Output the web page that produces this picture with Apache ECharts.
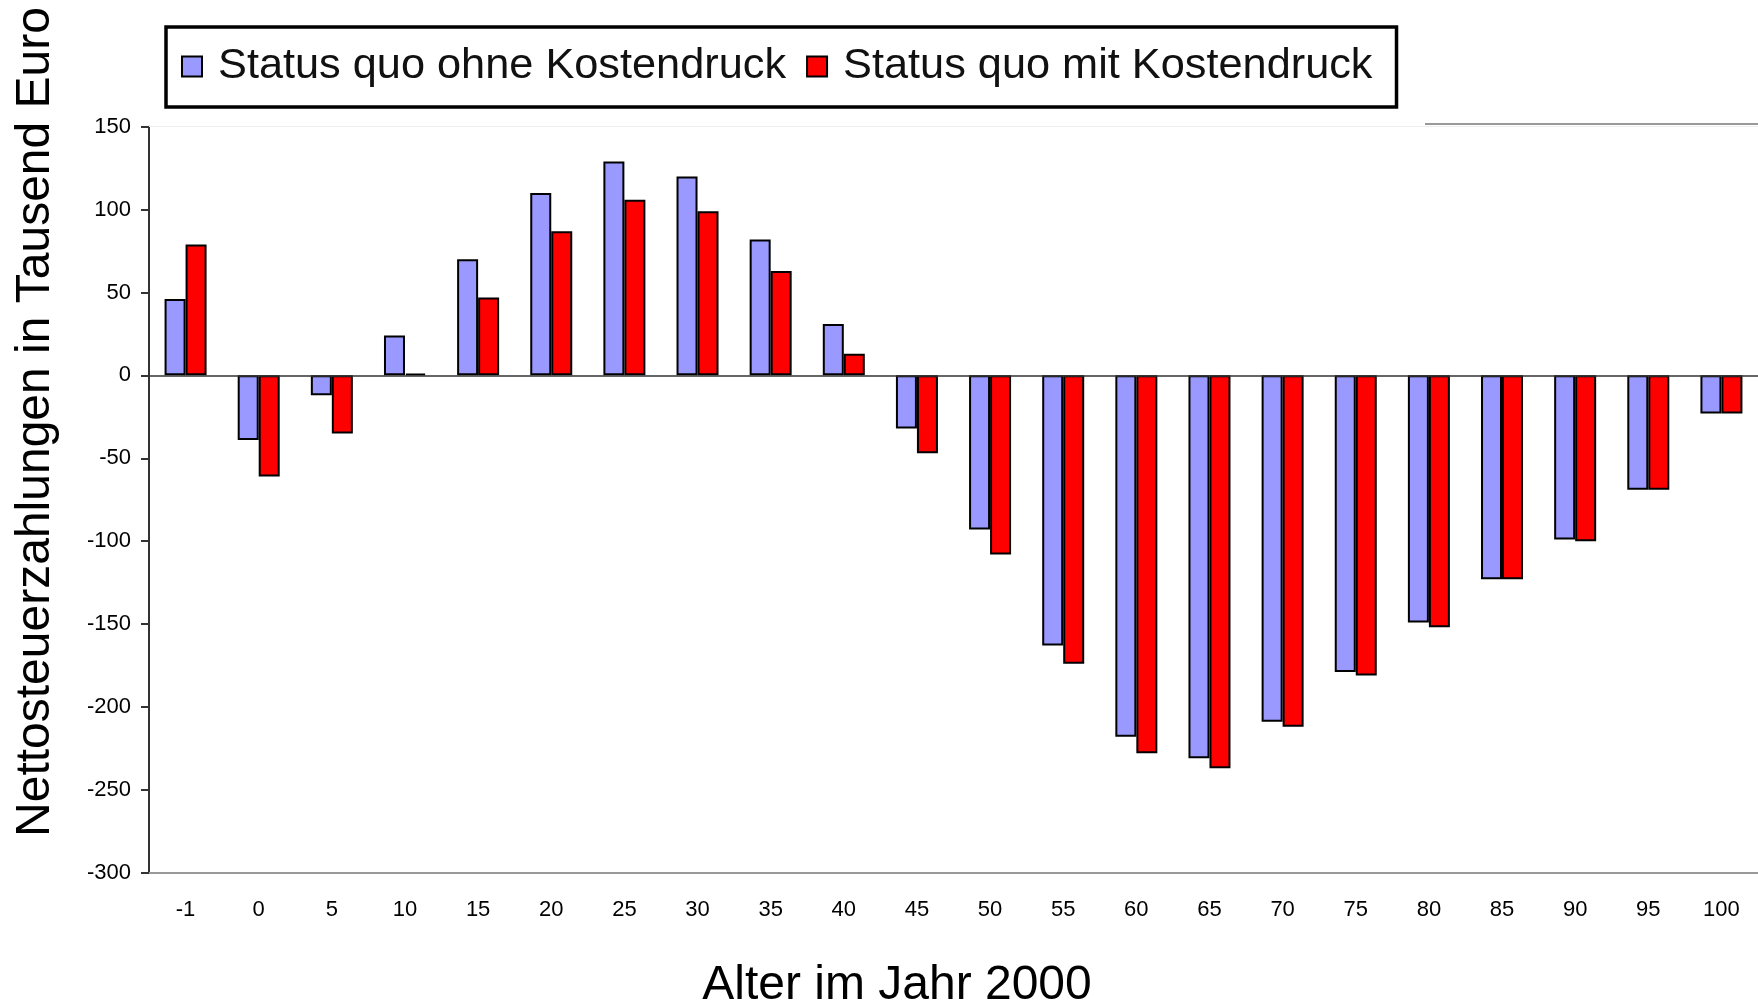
<!DOCTYPE html>
<html>
<head>
<meta charset="utf-8">
<script src="https://cdn.jsdelivr.net/npm/echarts@6/dist/echarts.min.js"></script>
<style>
html,body{margin:0;padding:0;background:#fff;}
#chart{width:1758px;height:1006px;}
</style>
</head>
<body>
<div id="chart"></div>
<script>
const categories = ['-1','0','5','10','15','20','25','30','35','40','45','50','55','60','65','70','75','80','85','90','95','100'];
const ohneKostendruck = [46, -39, -12, 24, 70, 110, 129, 120, 82, 31, -32, -93, -163, -218, -231, -209, -179, -149, -123, -99, -69, -23];
const mitKostendruck = [79, -61, -35, 1, 47, 87, 106, 99, 63, 13, -47, -108, -174, -228, -237, -212, -181, -152, -123, -100, -69, -23];
const seriesNames = ['Status quo ohne Kostendruck', 'Status quo mit Kostendruck'];
const yTitle = 'Nettosteuerzahlungen in Tausend Euro';
const xTitle = 'Alter im Jahr 2000';

const FONT = '"Liberation Sans", Arial, sans-serif';
const chart = echarts.init(document.getElementById('chart'));
chart.setOption({
  backgroundColor: '#ffffff',
  animation: false,
  textStyle: { fontFamily: FONT },
  grid: { left: 149, right: 0, top: 126.7, bottom: 133.3, containLabel: false },
  legend: {
    left: 166, top: 27,
    orient: 'horizontal',
    icon: 'rect',
    itemWidth: 20, itemHeight: 20, itemGap: 20,
    borderColor: '#000', borderWidth: 3.5,
    backgroundColor: '#fff',
    padding: [18, 24, 19, 15],
    textStyle: { fontSize: 43.3, color: '#111', fontFamily: FONT, padding: [0, 0, 0, 11] },
    data: seriesNames
  },
  xAxis: {
    type: 'category',
    data: categories,
    axisLine: { onZero: false, lineStyle: { color: '#999', width: 2 } },
    axisTick: { show: false },
    axisLabel: { fontSize: 22, color: '#000', margin: 26, fontFamily: FONT },
    splitLine: { show: false }
  },
  yAxis: {
    type: 'value',
    min: -300, max: 150, interval: 50,
    axisLine: { show: true, lineStyle: { color: '#333', width: 2 } },
    axisTick: { show: true, length: 8, lineStyle: { color: '#333', width: 2 } },
    axisLabel: { fontSize: 22, color: '#000', margin: 18, fontFamily: FONT },
    splitLine: { show: false }
  },
  series: [
    {
      name: seriesNames[0],
      type: 'bar',
      data: ohneKostendruck,
      barWidth: 21,
      barGap: '0%',
      itemStyle: { color: '#9999FF', borderColor: '#000', borderWidth: 2 },
      markLine: {
        silent: true, symbol: 'none', label: { show: false },
        data: [
          { yAxis: 0, lineStyle: { color: '#333', width: 1.5, type: 'solid' } },
          { yAxis: 150, lineStyle: { color: '#eeeeee', width: 1, type: 'solid' } }
        ]
      }
    },
    {
      name: seriesNames[1],
      type: 'bar',
      data: mitKostendruck,
      barWidth: 21,
      barGap: '0%',
      itemStyle: { color: '#FF0000', borderColor: '#000', borderWidth: 2 }
    }
  ],
  graphic: [
    {
      type: 'text',
      x: 36, y: 422,
      rotation: Math.PI / 2,
      style: { text: yTitle, font: '48px ' + FONT, fill: '#000', textAlign: 'center', textVerticalAlign: 'middle' }
    },
    {
      type: 'text',
      x: 897, y: 986,
      style: { text: xTitle, font: '48px ' + FONT, fill: '#000', textAlign: 'center', textVerticalAlign: 'middle' }
    },
    {
      type: 'line',
      shape: { x1: 1425, y1: 124, x2: 1758, y2: 124 },
      style: { stroke: '#999', lineWidth: 2 }
    }
  ]
});
</script>
</body>
</html>
